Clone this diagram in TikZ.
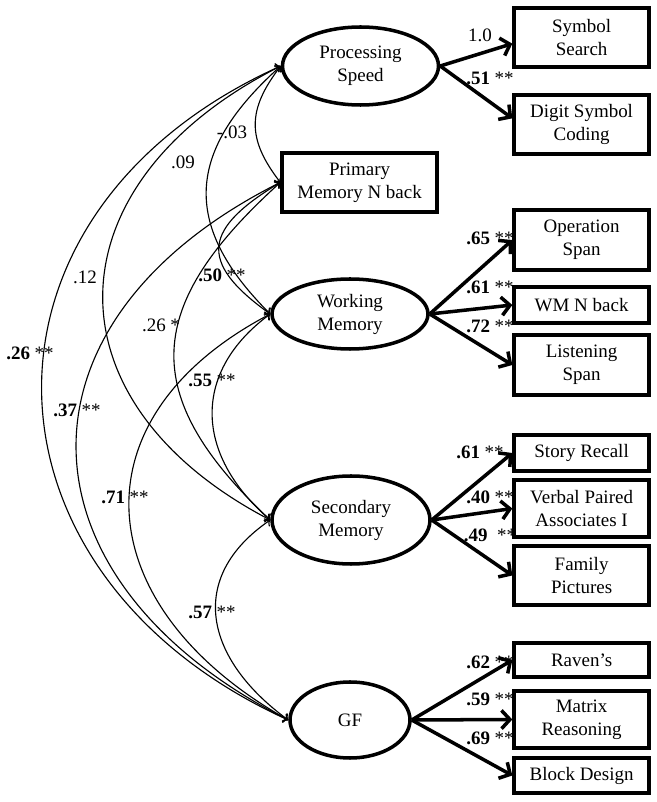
\documentclass[tikz,border=0pt]{standalone}
\usepackage{fontspec}
\setmainfont{Liberation Serif}
\usepackage{tikz}
\usetikzlibrary{arrows,arrows.meta,positioning,shapes.geometric}
\newcommand{\sig}[1]{\textbf{#1}~**}

\begin{document}
\begin{tikzpicture}[font=\fontsize{13.5}{16.4}\selectfont,
  latent/.style={ellipse, draw, line width=2.5pt, inner sep=0pt, align=center},
  observed/.style={rectangle, draw, line width=2.5pt, inner sep=0pt, align=center,
    minimum width=3.375cm},
  loading/.style={-{Straight Barb[length=6pt,width=13pt]}, line width=2.5pt},
  corr/.style={<->, line width=0.8pt}]
\useasboundingbox (0,0) rectangle (16.425,20.05);
% latent factors
\node (PS) [latent, minimum width=3.9cm, minimum height=1.95cm] at (9.0125,18.4) {Processing\\Speed};
\node (WM) [latent, minimum width=3.9cm, minimum height=1.75cm] at (8.75,12.2) {Working\\Memory};
\node (SM) [latent, minimum width=3.95cm, minimum height=2.2cm] at (8.775,7.05) {Secondary\\Memory};
\node (GF) [latent, minimum width=3.0cm, minimum height=1.9cm] at (8.75,2.05) {GF};
\node (PM) [observed, minimum width=3.875cm, minimum height=1.475cm] at (8.99,15.49) {Primary\\Memory N back};
% indicators
\node (SS) [observed, minimum height=1.475cm] at (14.54,19.11) {Symbol\\Search};
\node (DSC) [observed, minimum height=1.475cm] at (14.54,16.94) {Digit Symbol\\Coding};
\node (OS) [observed, minimum height=1.5cm] at (14.54,14.05) {Operation\\Span};
\node (WMN) [observed, minimum height=0.9cm] at (14.54,12.425) {WM N back};
\node (LS) [observed, minimum height=1.5cm] at (14.54,10.925) {Listening\\Span};
\node (SR) [observed, minimum height=0.9cm] at (14.54,8.725) {Story Recall};
\node (VPA) [observed, minimum height=1.425cm] at (14.54,7.3375) {Verbal Paired\\Associates I};
\node (FP) [observed, minimum height=1.475cm] at (14.54,5.6625) {Family\\Pictures};
\node (RV) [observed, minimum height=0.85cm] at (14.54,3.55) {Raven’s};
\node (MR) [observed, minimum height=1.425cm] at (14.54,2.0625) {Matrix\\Reasoning};
\node (BD) [observed, minimum height=0.875cm] at (14.54,0.6625) {Block Design};
% loadings
\draw[loading] (PS.east) -- (SS.185);
\draw[loading] (PS.east) -- (DSC.175);
\draw[loading] (WM.east) -- (OS.west);
\draw[loading] (WM.east) -- (WMN.west);
\draw[loading] (WM.east) -- (LS.west);
\draw[loading] (SM.east) -- (SR.west);
\draw[loading] (SM.east) -- (VPA.west);
\draw[loading] (SM.east) -- (FP.west);
\draw[loading] (GF.east) -- (RV.west);
\draw[loading] (GF.east) -- (MR.west);
\draw[loading] (GF.east) -- (BD.west);
\node (lss) at (12.0,19.175) {1.0};
\node (ldsc) at (12.25,18.1) {\sig{.51}};
\node (los) at (12.25,14.1) {\sig{.65}};
\node (lwmn) at (12.25,12.875) {\sig{.61}};
\node (lls) at (12.25,11.9) {\sig{.72}};
\node (lsr) at (12.0,8.75) {\sig{.61}};
\node (lvpa) at (12.25,7.625) {\sig{.40}};
\node (lfp) at (12.25,6.675) {\textbf{.49}~~**};
\node (lrv) at (12.25,3.5) {\sig{.62}};
\node (lmr) at (12.25,2.575) {\sig{.59}};
\node (lbd) at (12.25,1.6) {\sig{.69}};
% correlations
\draw[corr] (PS.west) .. controls (-1.125,14.725) and (-0.825,5.7) .. (GF.west);
\draw[corr] (PS.west) .. controls (1.225,15.475) and (1.05,10.025) .. (SM.west);
\draw[corr] (PS.west) .. controls (4.675,16.3) and (4.5,14.45) .. (WM.west);
\draw[corr] (PS.west) .. controls (6.175,17.3) and (6.175,16.575) .. (PM.west);
\draw[corr] (PM.west) .. controls (5.125,14.35) and (4.9,13.525) .. (WM.west);
\draw[corr] (PM.west) .. controls (3.625,12.425) and (3.4,10.2) .. (SM.west);
\draw[corr] (PM.west) .. controls (0.05,12.0) and (0.3,5.55) .. (GF.west);
\draw[corr] (WM.west) .. controls (4.825,10.775) and (4.825,8.725) .. (SM.west);
\draw[corr] (WM.west) .. controls (1.75,9.575) and (2.225,4.85) .. (GF.west);
\draw[corr] (SM.west) .. controls (4.65,5.6) and (5.125,3.575) .. (GF.west);
\node (cpspm) at (5.8,16.75) {-.03};
\node (cpswm) at (4.575,16.0) {.09};
\node (cpssm) at (2.125,13.125) {.12};
\node (cpsgf) at (0.75,11.225) {\sig{.26}};
\node (cpmwm) at (5.55,13.175) {\sig{.50}};
\node (cpmsm) at (4.025,11.925) {.26~*};
\node (cwmsm) at (5.3,10.55) {\sig{.55}};
\node (cpmgf) at (1.925,9.8) {\sig{.37}};
\node (cwmgf) at (3.125,7.625) {\sig{.71}};
\node (csmgf) at (5.3,4.75) {\sig{.57}};
\end{tikzpicture}
\end{document}
